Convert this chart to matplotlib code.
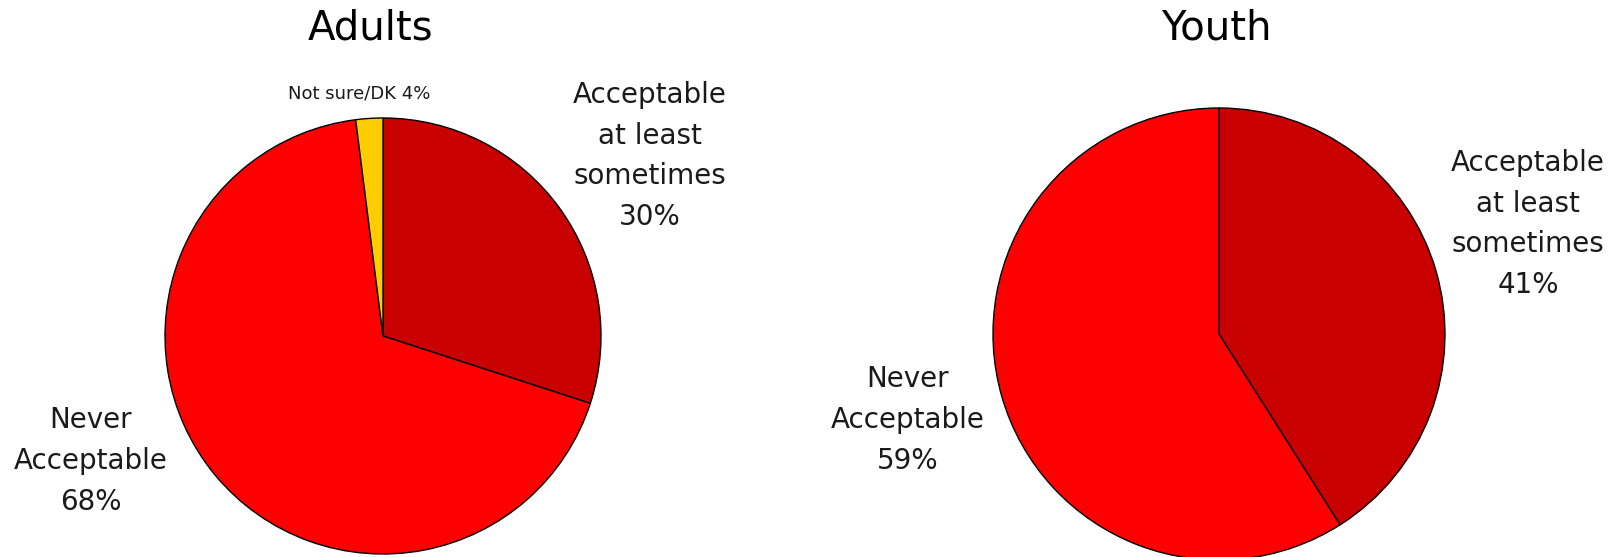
import matplotlib
matplotlib.use("Agg")
import matplotlib.pyplot as plt

# survey shares (slice sizes as drawn) and the printed percentages
adult_names = ["Acceptable\nat least\nsometimes", "Never\nAcceptable", "Not sure/DK"]
adult_slices = [30, 68, 2]
adult_pct = [30, 68, 4]

youth_names = ["Acceptable\nat least\nsometimes", "Never\nAcceptable"]
youth_slices = [41, 59]
youth_pct = [41, 59]

colors = ["#C80000", "#FF0000", "#FFCC00"]

W, H = 1623, 557
fig = plt.figure(figsize=(W / 100, H / 100), dpi=100)
ax = fig.add_axes([0, 0, 1, 1])
ax.set_xlim(0, W)
ax.set_ylim(0, H)
ax.set_aspect("equal")
ax.axis("off")

plt.rcParams['font.family'] = ['DejaVu Sans']

def draw(values, center, radius):
    ax.pie(values, center=(center[0], H - center[1]), radius=radius,
           startangle=90, counterclock=False, colors=colors[:len(values)],
           wedgeprops=dict(edgecolor="black", linewidth=1.0))

draw(adult_slices, (383, 336), 218)
draw(youth_slices, (1219, 334), 226)

# restore limits (pie may reset them)
ax.set_xlim(0, W)
ax.set_ylim(0, H)

txt = dict(ha="center", va="center", fontsize=20, color="#1a1a1a", linespacing=1.58)

ax.text(371, H - 29, "Adults", ha="center", va="center", fontsize=29, color="black")
ax.text(1216, H - 29, "Youth", ha="center", va="center", fontsize=29, color="black")

ax.text(650, H - 156, f"{adult_names[0]}\n{adult_pct[0]}%", **txt)
ax.text(91, H - 461, f"{adult_names[1]}\n{adult_pct[1]}%", **txt)
ax.text(359, H - 94, f"{adult_names[2]} {adult_pct[2]}%", ha="center", va="center",
        fontsize=13, color="#1a1a1a")

ax.text(1528, H - 224, f"{youth_names[0]}\n{youth_pct[0]}%", **txt)
ax.text(908, H - 420, f"{youth_names[1]}\n{youth_pct[1]}%", **txt)

fig.savefig("out.png", dpi=100, facecolor="white")
